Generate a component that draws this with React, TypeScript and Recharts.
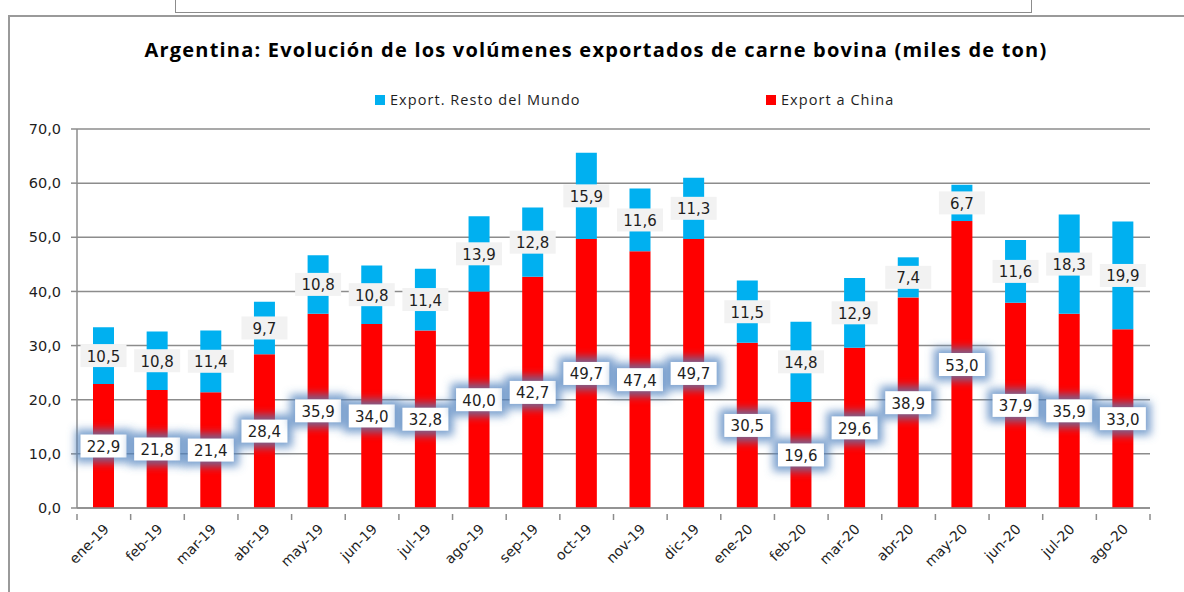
import React from "react";
import { Bar, BarChart, CartesianGrid, LabelList, XAxis, YAxis } from "recharts";

const MESES = [
  "ene-19", "feb-19", "mar-19", "abr-19", "may-19", "jun-19", "jul-19", "ago-19", "sep-19", "oct-19",
  "nov-19", "dic-19", "ene-20", "feb-20", "mar-20", "abr-20", "may-20", "jun-20", "jul-20", "ago-20",
];
const CHINA = [22.9, 21.8, 21.4, 28.4, 35.9, 34.0, 32.8, 40.0, 42.7, 49.7, 47.4, 49.7, 30.5, 19.6, 29.6, 38.9, 53.0, 37.9, 35.9, 33.0];
const RESTO = [10.5, 10.8, 11.4, 9.7, 10.8, 10.8, 11.4, 13.9, 12.8, 15.9, 11.6, 11.3, 11.5, 14.8, 12.9, 7.4, 6.7, 11.6, 18.3, 19.9];
const Y_TICKS = [0, 10, 20, 30, 40, 50, 60, 70];

const TITULO = "Argentina: Evolución de los volúmenes exportados de carne bovina (miles de ton)";
const SERIE_RESTO = "Export. Resto del Mundo";
const SERIE_CHINA = "Export a China";

const ROJO = "#ff0000";
const CELESTE = "#00b0f0";
const GRIS = "#8c8c8c";
const TXT = "#1e1e1e";
const VERDANA = "'DejaVu Sans', Verdana, sans-serif";
const CALIBRI = "'Open Sans', Calibri, sans-serif";

const fmt = (v: number) => Number(v).toFixed(1).replace(".", ",");

const rows = MESES.map((mes, i) => ({ mes, china: CHINA[i], resto: RESTO[i] }));

// caja de etiqueta centrada en el segmento; las de China llevan el halo azul
function Caja({ props, halo }: { props: any; halo: boolean }) {
  const vb = props.viewBox ?? props;
  const cx = vb.x + vb.width / 2;
  const cy = vb.y + vb.height / 2;
  const w = 46, h = 23;
  return (
    <g>
      {halo && (
        <rect x={cx - w / 2 - 5} y={cy - h / 2 - 5} width={w + 10} height={h + 10}
          fill="rgba(79,129,189,0.75)" filter="url(#halo)" />
      )}
      <rect x={cx - w / 2} y={cy - h / 2} width={w} height={h} fill={halo ? "#ffffff" : "#f2f2f2"} />
      <text x={cx} y={cy + 1} textAnchor="middle" dominantBaseline="central"
        fontSize={15} fontFamily={VERDANA} fill={TXT}>
        {fmt(props.value)}
      </text>
    </g>
  );
}

function MesTick({ x, y, payload, index }: any) {
  const off = payload?.offset ?? 26.8;
  const last = index === MESES.length - 1;
  return (
    <g>
      <line x1={x - off} x2={x - off} y1={y - 2} y2={y + 4} stroke={GRIS} strokeWidth={1.5} />
      {last && <line x1={x + off} x2={x + off} y1={y - 2} y2={y + 4} stroke={GRIS} strokeWidth={1.5} />}
      <text x={x + 6} y={y + 14} textAnchor="end" fontSize={14} fontFamily={VERDANA} fill={TXT}
        transform={`rotate(-45, ${x + 6}, ${y + 14})`}>
        {payload.value}
      </text>
    </g>
  );
}

const leyenda = { position: "absolute" as const, top: 90, fontFamily: CALIBRI, fontSize: 14.5, letterSpacing: 1.05, color: TXT, display: "flex", alignItems: "center" };

export default function App() {
  return (
    <div style={{ position: "absolute", left: 0, top: 0, width: 1184, height: 592, overflow: "hidden", background: "#fff" }}>
      <svg width={0} height={0} style={{ position: "absolute" }}>
        <defs>
          <filter id="halo" x="-50%" y="-80%" width="200%" height="260%">
            <feGaussianBlur stdDeviation={4} />
          </filter>
        </defs>
      </svg>
      {/* marcos de la hoja */}
      <div style={{ position: "absolute", left: 175, top: -4, width: 855, height: 15, border: `1.5px solid ${GRIS}` }} />
      <div style={{ position: "absolute", left: 8, top: 15, width: 1200, height: 600, border: "2px solid #9a9a9a" }} />

      <div style={{
        position: "absolute", top: 36, left: 0, width: 1192, textAlign: "center",
        fontFamily: CALIBRI, fontWeight: 700, fontSize: 20, letterSpacing: 1.2, color: "#000",
      }}>
        {TITULO}
      </div>

      <div style={{ ...leyenda, left: 375 }}>
        <span style={{ width: 10, height: 10, background: CELESTE, marginRight: 5 }} />
        <span>{SERIE_RESTO}</span>
      </div>
      <div style={{ ...leyenda, left: 766 }}>
        <span style={{ width: 10, height: 10, background: ROJO, marginRight: 5 }} />
        <span>{SERIE_CHINA}</span>
      </div>

      <div style={{ position: "absolute", left: 0, top: 0 }}>
        <BarChart width={1184} height={592} data={rows} barCategoryGap={0}
          margin={{ top: 129, right: 34, bottom: 0, left: 17 }}>
          <CartesianGrid vertical={false} stroke={GRIS} strokeWidth={1.5} />
          <XAxis dataKey="mes" height={84} interval={0} tickLine={false}
            axisLine={{ stroke: GRIS, strokeWidth: 1.5 }} tick={<MesTick />} />
          <YAxis domain={[0, 70]} ticks={Y_TICKS} width={60} tickSize={6} tickMargin={10}
            axisLine={{ stroke: GRIS, strokeWidth: 1.5 }} tickLine={{ stroke: GRIS, strokeWidth: 1.5 }}
            tick={{ fill: TXT, fontSize: 14.5, fontFamily: VERDANA }} tickFormatter={(v) => fmt(v)} />
          <Bar dataKey="china" name={SERIE_CHINA} stackId="a" fill={ROJO} barSize={21} isAnimationActive={false}>
            <LabelList dataKey="china" position="center" content={(p: any) => <Caja props={p} halo />} />
          </Bar>
          <Bar dataKey="resto" name={SERIE_RESTO} stackId="a" fill={CELESTE} barSize={21} isAnimationActive={false}>
            <LabelList dataKey="resto" position="center" content={(p: any) => <Caja props={p} halo={false} />} />
          </Bar>
        </BarChart>
      </div>
    </div>
  );
}
